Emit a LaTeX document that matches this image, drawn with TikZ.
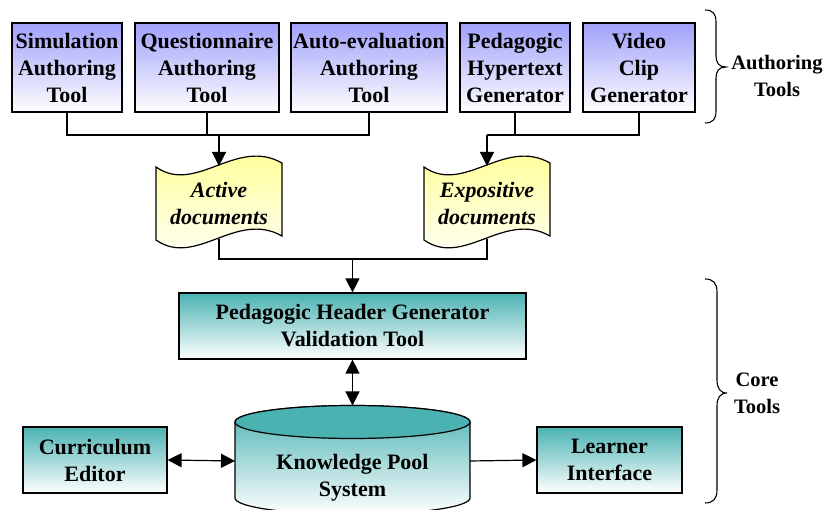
\documentclass[tikz,border=0pt]{standalone}
\usepackage{fontspec}
\setmainfont{Liberation Serif}
\usetikzlibrary{arrows.meta}
\definecolor{authblue}{RGB}{160,160,250}
\definecolor{coreteal}{RGB}{75,178,178}
\definecolor{docyellow}{RGB}{255,255,140}
\tikzset{
  txt/.style={font=\fontsize{22}{27}\selectfont\bfseries, align=center, inner sep=0pt},
  lbl/.style={font=\fontsize{20.5}{27}\selectfont\bfseries, align=center, inner sep=0pt},
  authbox/.style={txt, draw=black, line width=1.2pt, top color=authblue, bottom color=white, minimum height=89pt},
  corebox/.style={txt, draw=black, line width=1.2pt, top color=coreteal, bottom color=white},
  doctxt/.style={font=\fontsize{22}{27}\selectfont\bfseries\itshape, align=center, inner sep=0pt},
  conn/.style={line width=1.2pt},
  arrowto/.style={line width=1.2pt, -{Triangle[length=14pt,width=14pt]}},
  arrowboth/.style={line width=1.2pt, {Triangle[length=14pt,width=14pt]}-{Triangle[length=14pt,width=14pt]}},
  bracestyle/.style={line width=1.1pt},
}
\begin{document}
\begin{tikzpicture}[x=1pt,y=-1pt]
\useasboundingbox (0,0) rectangle (830,510);

% authoring tools
\node[authbox, minimum width=110pt] (sim) at (67,67.5) {Simulation\\Authoring\\Tool};
\node[authbox, minimum width=144pt] (quest) at (207,67.5) {Questionnaire\\Authoring\\Tool};
\node[authbox, minimum width=156pt] (auto) at (369,67.5) {Auto-evaluation\\Authoring\\Tool};
\node[authbox, minimum width=110pt] (peda) at (515,67.5) {Pedagogic\\Hypertext\\Generator};
\node[authbox, minimum width=112pt] (video) at (639,67.5) {Video\\Clip\\Generator};

% documents
\shade[top color=docyellow, bottom color=white, draw=black, line width=1.2pt]
  (156,167) .. controls (196,195) and (236,137) .. (282,163) -- (282,236)
  .. controls (236,210) and (196,268) .. (156,240) -- cycle;
\node[doctxt] (active) at (219,203.5) {Active\\documents};
\shade[top color=docyellow, bottom color=white, draw=black, line width=1.2pt]
  (424,167) .. controls (464,195) and (504,137) .. (550,163) -- (550,236)
  .. controls (504,210) and (464,268) .. (424,240) -- cycle;
\node[doctxt] (expo) at (487,203.5) {Expositive\\documents};
\coordinate (actT) at (219,166);
\coordinate (actB) at (219,239);
\coordinate (expT) at (487,166);
\coordinate (expB) at (487,239);

% core tools
\node[corebox, minimum width=347pt, minimum height=66pt] (header) at (352.5,326) {Pedagogic Header Generator\\Validation Tool};

\shade[top color=coreteal, bottom color=white, draw=black, line width=1.2pt]
  (235,422) -- (235,498) arc[start angle=180, end angle=0, x radius=117.5, y radius=16.5]
  -- (470,422) arc[start angle=0, end angle=-180, x radius=117.5, y radius=16.5] -- cycle;
\draw[fill=coreteal, line width=1.2pt] (352.5,422) ellipse[x radius=117.5, y radius=16.5];
\node[txt] (kp) at (352.5,478) {Knowledge Pool\\System};
\coordinate (kpT) at (352.5,405.5);
\coordinate (kpL) at (235,461);
\coordinate (kpR) at (470,461);

\node[corebox, minimum width=144pt, minimum height=66pt] (curr) at (95,460) {Curriculum\\Editor};
\node[corebox, minimum width=145pt, minimum height=66pt] (learner) at (609.5,460) {Learner\\Interface};

% connectors
\coordinate (busA) at (219,135);
\coordinate (busE) at (487,135);
\coordinate (busC) at (352.5,259);
\draw[conn] (sim.south) |- (busA) -| (auto.south);
\draw[conn] (quest.south) -- (quest.south |- busA);
\draw[arrowto] (busA) -- (actT);
\draw[conn] (busE) -| (video.south);
\draw[conn] (peda.south) -- (peda.south |- busE);
\draw[arrowto] (busE) -- (expT);
\draw[conn] (actB) |- (busC) -| (expB);
\draw[arrowto] (busC) -- (header.north);
\draw[arrowboth] (header.south) -- (kpT);
\draw[arrowboth] (curr.east) -- (kpL);
\draw[arrowto] (kpR) -- (learner.west);

% braces
\draw[bracestyle] (705,10) .. controls (713,10) and (716,14) .. (716,22) -- (716,56)
  .. controls (716,63) and (719,67) .. (726,67) .. controls (719,67) and (716,71) .. (716,78)
  -- (716,111) .. controls (716,119) and (713,123) .. (705,123);
\node[lbl] (authlbl) at (777,76) {Authoring\\Tools};
\draw[bracestyle] (705,279) .. controls (713,279) and (717,283) .. (717,292) -- (717,380)
  .. controls (717,388) and (720,393) .. (727,393) .. controls (720,393) and (717,398) .. (717,406)
  -- (717,490) .. controls (717,499) and (713,503) .. (705,503);
\node[lbl] (corelbl) at (757,393) {Core\\Tools};
\end{tikzpicture}
\end{document}
